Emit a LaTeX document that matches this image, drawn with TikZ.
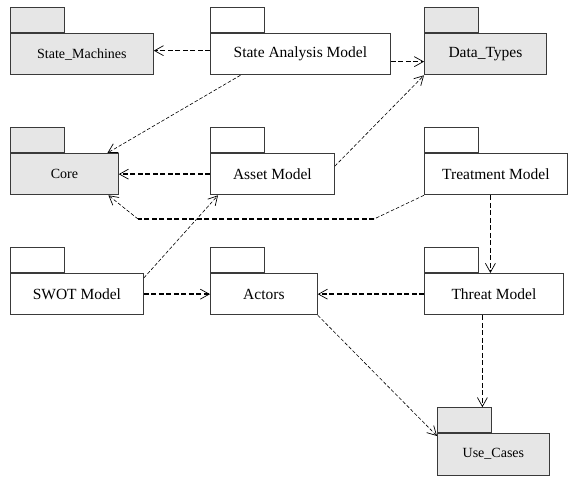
\documentclass[tikz,border=0pt]{standalone}
\usepackage{fontspec}
\setmainfont{Liberation Serif}
\usetikzlibrary{arrows.meta}
\definecolor{pkgfill}{HTML}{E6E6E6}
\definecolor{pkgline}{HTML}{3A3A3A}
\begin{document}
\begin{tikzpicture}[x=1pt,y=1pt,
  body/.style={draw=pkgline, line width=0.8pt, fill=white, rectangle, inner sep=0pt,
    minimum height=41.5pt, anchor=north west, font=\fontsize{15.5}{18}\selectfont},
  shaded/.style={fill=pkgfill},
  small/.style={font=\fontsize{14}{17}\selectfont},
  tab/.style={draw=pkgline, line width=0.8pt, fill=white, rectangle, inner sep=0pt,
    minimum width=54pt, minimum height=25pt, anchor=south west},
  tip/.style={-{Straight Barb[length=9pt,width=10pt,line width=0.7pt]}},
  depaxis/.style={tip, line width=1.4pt, dash pattern=on 5pt off 2.5pt},
  depdiag/.style={tip, line width=0.6pt, dash pattern=on 3.5pt off 2pt},
  plain/.style={line width=0.6pt, dash pattern=on 3.5pt off 2pt},
  plainaxis/.style={line width=1.4pt, dash pattern=on 5pt off 2.5pt}]
\useasboundingbox (0,0) rectangle (569,476);

% package bodies (top-left corners, y measured from the bottom)
\node[body, shaded, small, minimum width=143pt] (sm)    at (10,443)  {State\_Machines};
\node[body, minimum width=180pt]                (sam)   at (210,443) {State Analysis Model};
\node[body, shaded, minimum width=122pt]        (dt)    at (424,443) {Data\_Types};
\node[body, shaded, small, minimum width=108pt] (core)  at (10,323)  {Core};
\node[body, minimum width=124pt]                (am)    at (210,323) {Asset Model};
\node[body, minimum width=143pt]                (tm)    at (424,323) {Treatment Model};
\node[body, minimum width=133pt]                (swot)  at (10,203)  {SWOT Model};
\node[body, minimum width=107pt]                (act)   at (210,203) {Actors};
\node[body, minimum width=139pt]                (thr)   at (424,203) {Threat Model};
\node[body, shaded, small, minimum width=112pt] (uc)    at (437,43)  {Use\_Cases};

% package tabs
\node[tab, shaded] (smtab)   at (sm.north west)   {};
\node[tab]         (samtab)  at (sam.north west)  {};
\node[tab, shaded] (dttab)   at (dt.north west)   {};
\node[tab, shaded] (coretab) at (core.north west) {};
\node[tab]         (amtab)   at (am.north west)   {};
\node[tab]         (tmtab)   at (tm.north west)   {};
\node[tab]         (swottab) at (swot.north west) {};
\node[tab]         (acttab)  at (act.north west)  {};
\node[tab]         (thrtab)  at (thr.north west)  {};
\node[tab, shaded] (uctab)   at (uc.north west)   {};

% bends of the Treatment Model -> Core dependency
\coordinate (bendR) at (374,257);
\coordinate (bendL) at (138,257);

% dependencies
\draw[depaxis] ([yshift=3.5]sam.west) -- ([yshift=3.5]sm.east);
\draw[depaxis] ([yshift=-7.5]sam.east) -- ([yshift=-7.5]dt.west);
\draw[depdiag] ([xshift=-60]sam.south) -- ([xshift=43]core.north);
\draw[depaxis] (am.west) -- (core.east);
\draw[depdiag] ([yshift=8]am.east) -- (dt.south west);
\draw[plain] (tm.south west) -- (bendR);
\draw[plainaxis] (bendR) -- (bendL);
\draw[depdiag] (bendL) -- ([xshift=44]core.south);
\draw[depdiag] ([yshift=-5]swot.north east) -- ([xshift=8]am.south west);
\draw[depaxis] (swot.east) -- (act.west);
\draw[depaxis] (thr.west) -- (act.east);
\draw[depaxis] ([xshift=-5.5]tm.south) -- ([xshift=-5.5]tm.south |- thr.north);
\draw[depaxis] ([xshift=-11.5]thr.south) -- ([xshift=-11.5]thr.south |- uctab.north);
\draw[depdiag] (act.south east) -- ([yshift=-3]uc.north west);
\end{tikzpicture}
\end{document}
